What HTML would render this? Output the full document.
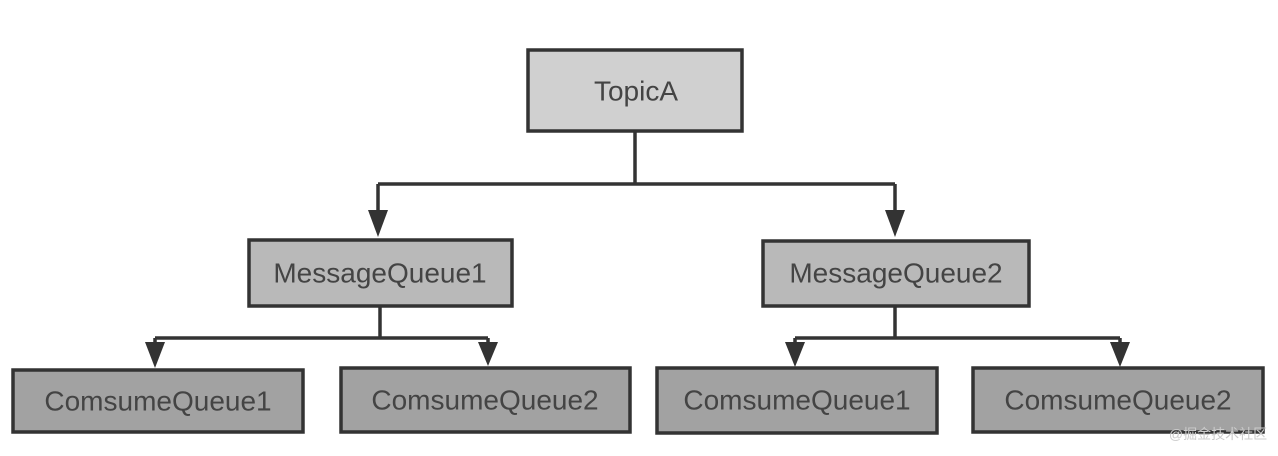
<!DOCTYPE html>
<html><head><meta charset="utf-8"><style>
html,body{margin:0;padding:0;background:#fff;width:1278px;height:456px;overflow:hidden}
text{font-family:"Liberation Sans",sans-serif;fill:#444;font-size:28px;text-anchor:middle;dominant-baseline:central}
</style></head><body>
<svg width="1278" height="456" viewBox="0 0 1278 456">
<g stroke="#333" stroke-width="3.5" fill="none">
<path d="M635 132V184M378 184H895M378 184V212M895 184V212"/>
<path d="M380 307V338M155 338H488M155 338V345M488 338V345"/>
<path d="M895 307V338M795 338H1120M795 338V345M1120 338V345"/>
</g>
<g fill="#333">
<polygon points="368,210 388,210 378,237"/>
<polygon points="885,210 905,210 895,237"/>
<polygon points="145,342 165,342 155,368"/>
<polygon points="478,342 498,342 488,366"/>
<polygon points="785,342 805,342 795,367"/>
<polygon points="1110,342 1130,342 1120,367"/>
</g>
<g stroke="#333" stroke-width="3.5">
<rect x="528" y="50" width="214" height="81" fill="#d0d0d0"/>
<rect x="249" y="240" width="263" height="66" fill="#b9b9b9"/>
<rect x="763" y="241" width="266" height="65" fill="#b9b9b9"/>
<rect x="13" y="370" width="290" height="62" fill="#a2a2a2"/>
<rect x="341" y="368" width="289" height="64" fill="#a2a2a2"/>
<rect x="657" y="368" width="280" height="65" fill="#a2a2a2"/>
<rect x="973" y="368" width="290" height="64" fill="#a2a2a2"/>
</g>
<text x="636" y="91">TopicA</text>
<text x="380" y="273">MessageQueue1</text>
<text x="896" y="273">MessageQueue2</text>
<text x="158" y="401">ComsumeQueue1</text>
<text x="485" y="400">ComsumeQueue2</text>
<text x="797" y="400">ComsumeQueue1</text>
<text x="1118" y="400">ComsumeQueue2</text>
<text x="1218" y="434" style="font-size:14px;fill:#ccc">@掘金技术社区</text>
</svg>
</body></html>
